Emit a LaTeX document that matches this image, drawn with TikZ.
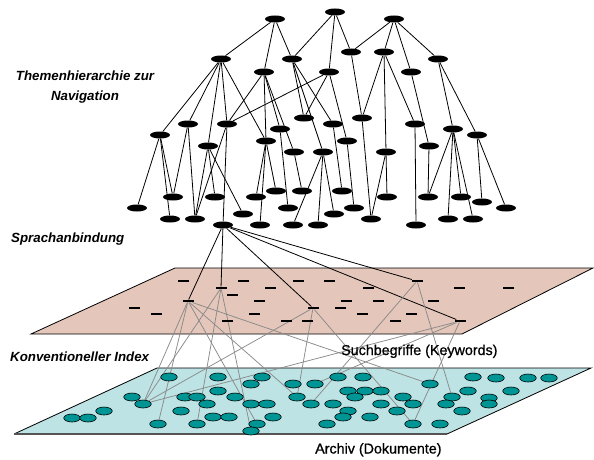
\documentclass[tikz,border=0pt]{standalone}
\usepackage{fontspec}
\setmainfont{Liberation Sans}
\newfontfamily\capfont{Liberation Sans}[FakeBold=0.8]
\usetikzlibrary{shapes.geometric}
\pgfdeclarelayer{planes}
\pgfdeclarelayer{links}
\pgfsetlayers{planes,links,main}
\definecolor{kwplane}{HTML}{E4C6BA}
\definecolor{docplane}{HTML}{BEE3E4}
\definecolor{docteal}{HTML}{009595}
\definecolor{linkgray}{HTML}{8A8A8A}
\definecolor{rimgray}{HTML}{555555}

\begin{document}
\begin{tikzpicture}[x=1pt,y=-1pt,
  topic/.style={ellipse, fill=black, minimum width=20pt, minimum height=7pt, inner sep=0pt},
  keyword/.style={rectangle, fill=black, minimum width=11pt, minimum height=2.6pt, inner sep=0pt},
  document/.style={ellipse, draw=black, line width=0.6pt, fill=docteal,
                   minimum width=16.5pt, minimum height=8pt, inner sep=0pt},
  hier/.style={line width=0.8pt},
  idx/.style={draw=linkgray, line width=0.75pt},
  lbl/.style={font=\fontsize{13.3}{20}\selectfont\bfseries\itshape, inner sep=0pt},
  caption/.style={font=\capfont\fontsize{14.3}{17}\selectfont, inner sep=0pt, anchor=base west}]

\useasboundingbox (0,0) rectangle (594,460);

% --- the two planes ---
\begin{pgfonlayer}{planes}
  \fill[kwplane] (175,268) -- (593,268) -- (462,334) -- (31,334) -- cycle;
  \draw[line width=0.8pt] (175,268) -- (593,268) -- (462,334) -- (31,334) -- cycle;
  \fill[docplane] (157,368) -- (591,368) -- (447,434) -- (14,434) -- cycle;
  \draw[line width=0.8pt] (447,434) -- (591,368) -- (157,368) -- (14,434);
  \draw[rimgray, line width=2pt] (14,434) -- (447,434);
\end{pgfonlayer}

% --- topic hierarchy ---
\foreach \n/\x/\y in {
  a1/275/19, a2/335/12, a3/394/19,
  b1/221/59, b2/292/59, b3/264/72, b4/329/72, b5/351/52, b6/384/52, b7/438/59, b8/411/72,
  c1/160/135, c2/188/124, c3/227/124, c4/208/146, c5/266/141, c6/280/129, c7/304/118,
  c8/333/124, c9/294/152, c10/323/152, c11/347/141, c12/362/118, c13/386/152, c14/415/124,
  c15/429/146, c16/453/129, c17/477/135,
  d1/137/208, d2/173/197, d3/170/219, d4/195/219, d5/215/197, d6/243/214, lang/223/225,
  d7/256/197, d8/260/225, d9/276/191, d10/288/208, d11/302/191, d12/293/225, d13/318/225,
  d14/334/214, d15/342/191, d16/354/208, d17/371/219, d18/387/197, d19/428/197, d20/416/225,
  d21/448/219, d22/461/197, d23/473/219, d24/482/202, d25/506/208}
  \node[topic] (\n) at (\x,\y) {};

\begin{pgfonlayer}{links}
  \foreach \p/\c in {
    a1/b1, a1/b3, a1/b2, a2/b2, a2/b4, a2/b5, a3/b5, a3/b6, a3/b7, a3/b8,
    b1/c1, b1/c2, b1/c3, b1/c4, b1/c5, b2/c7, b2/c8, b2/c10, b3/c3, b3/c5, b3/c6, b3/c9,
    b4/c3, b4/c7, b4/c11, b5/c12, b6/c12, b6/c13, b6/c14, b7/c16, b7/c17, b8/c15,
    c1/d1, c1/d2, c1/d3, c2/d2, c2/d4, c3/d4, c3/lang, c4/d4, c4/d5, c4/d6,
    c5/d7, c5/d8, c5/d9, c6/d10, c9/d11, c8/d15, c10/d12, c10/d13, c10/d14, c11/d16,
    c12/d17, c13/d17, c13/d18, c14/d20, c15/d19, c16/d19, c16/d21, c16/d22, c16/d23,
    c17/d24, c17/d25}
    \draw[hier] (\p) -- (\c);
\end{pgfonlayer}

% --- keywords ---
\foreach \n/\x/\y in {k1/188/301, k2/221/288, k3/313/308, k4/417/281, k5/460/321}
  \node[keyword] (\n) at (\x,\y) {};
\foreach \x/\y [count=\i] in {
  183/281, 243/281, 298/281, 329/281, 270/288, 368/288, 459/288, 508/288, 232/295,
  259/301, 346/301, 378/301, 433/301, 134/308, 340/308, 156/314, 254/314, 362/314,
  411/314, 227/321, 286/321, 307/321, 395/321}
  \node[keyword] (kw\i) at (\x,\y) {};

% --- documents ---
\foreach \n/\x/\y in {dA/143/404, dB/158/424, dC/257/424, dD/297/397, dE/430/384,
  dF/197/424, dG/251/431, dH/413/424, dI/311/404, dJ/452/397, dK/315/384}
  \node[document] (\n) at (\x,\y) {};
\foreach \x/\y [count=\i] in {
  169/377, 218/377, 262/377, 251/384, 293/384, 132/397, 185/397, 197/397, 218/391,
  235/397, 207/404, 251/404, 267/404, 181/411, 213/417, 229/417, 273/417, 104/411,
  72/418, 88/418, 338/377, 363/377, 348/391, 365/391, 381/391, 355/397, 333/404,
  381/404, 403/397, 413/404, 348/411, 397/411, 343/417, 370/417, 327/424, 440/424,
  446/404, 462/411, 468/391, 473/377, 496/378, 528/378, 549/378, 511/391, 489/398,
  489/404}
  \node[document] (doc\i) at (\x,\y) {};

\begin{pgfonlayer}{links}
  % language binding: hub topic to its keywords
  \foreach \k in {k1,k2,k3,k4,k5}
    \draw[hier] (lang) -- (\k);
  % index: keywords to documents
  \foreach \k/\d in {k1/dA, k1/dB, k1/dC, k1/dD, k1/dE, k2/dA, k2/dF, k2/dG,
    k3/dA, k3/dD, k3/dH, k4/dI, k4/dJ, k5/dA, k5/dK, k5/dH}
    \draw[idx] (\k) -- (\d);
\end{pgfonlayer}

% --- labels ---
\node[lbl, anchor=north, align=center] (themen) at (85,71)
  {Themenhierarchie zur\\Navigation};
\node[lbl, anchor=base west] (sprache) at (11,242.5) {Sprachanbindung};
\node[lbl, anchor=base west] (konv) at (10,361.5) {Konventioneller Index};
\node[caption] (such) at (341,355) {Suchbegriffe (Keywords)};
\node[caption] (archiv) at (315,453.5) {Archiv (Dokumente)};

\end{tikzpicture}
\end{document}
